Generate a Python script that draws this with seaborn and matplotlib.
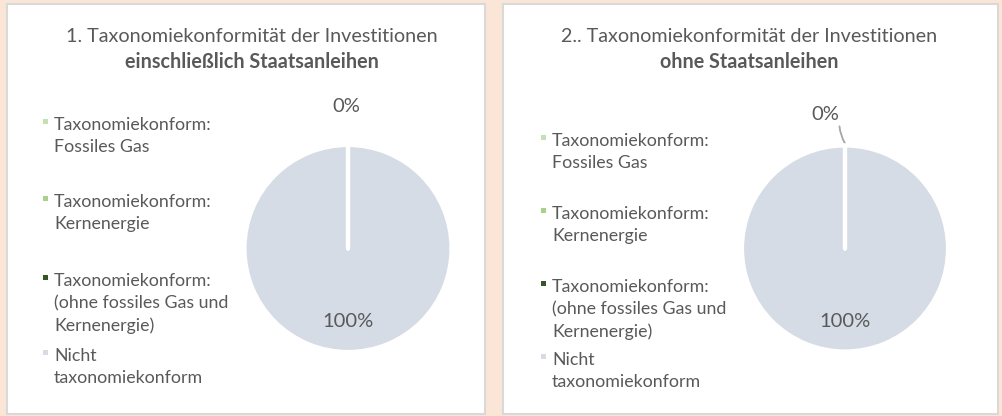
import numpy as np
import matplotlib.pyplot as plt
import matplotlib.patches as mpatches
import seaborn as sns

# chart data
categories = [
    "Taxonomiekonform:\nFossiles Gas",
    "Taxonomiekonform:\nKernenergie",
    "Taxonomiekonform:\n(ohne fossiles Gas und\nKernenergie)",
    "Nicht\ntaxonomiekonform",
]
values_incl = [0, 0, 0, 100]
values_excl = [0, 0, 0, 100]
title_line1 = ["1. Taxonomiekonformität der Investitionen",
               "2.. Taxonomiekonformität der Investitionen"]
title_line2 = ["einschließlich Staatsanleihen", "ohne Staatsanleihen"]

colors = ["#C5E0B4", "#A9D18E", "#375623", "#D6DCE5"]
text_color = "#595959"
bg = "#FBE5D6"

sns.set_theme(style="white")
plt.rcParams['font.family'] = ['Lato', 'DejaVu Sans']

W, H = 1002, 416
fig = plt.figure(figsize=(W / 100, H / 100), dpi=100, facecolor=bg)


def fx(px):
    return px / W


def fy(py):
    return 1 - py / H


def panel(x0, x1, y0=4, y1=414):
    r = mpatches.Rectangle((fx(x0), fy(y1)), fx(x1 - x0), (y1 - y0) / H,
                           transform=fig.transFigure, facecolor="white",
                           edgecolor="#D9D9D9", lw=1.5, zorder=-1)
    fig.patches.append(r)


def draw_panel(values, t1, t2, box, title_x, pie_c, radius, legend_x, legend_y,
               zero_label, leader):
    panel(*box)
    fig.text(fx(title_x), fy(37), t1, ha="center", va="center",
             fontsize=14.2, color=text_color)
    fig.text(fx(title_x), fy(62), t2, ha="center", va="center",
             fontsize=14.2, color=text_color, fontweight="bold")

    cx, cy = pie_c
    ax = fig.add_axes([fx(cx - radius), fy(cy + radius),
                       2 * radius / W, 2 * radius / H], zorder=2)
    ax.set_facecolor("none")
    wedges, _ = ax.pie(values, colors=colors, startangle=90, counterclock=False,
                       radius=1, wedgeprops=dict(edgecolor="white", linewidth=3,
                                                 capstyle="round"))
    for w, v in zip(wedges, values):
        if v == 0:
            w.set_zorder(5)
    ax.set_xlim(-1, 1)
    ax.set_ylim(-1, 1)
    ax.axis("off")

    total = sum(values)
    shown = set()
    for w, v in zip(wedges, values):
        lab = f"{v / total * 100:.0f}%"
        if v == 0:
            if lab in shown:
                continue
            shown.add(lab)
            ax.annotate(lab, xy=(0, 1.02), xytext=zero_label, ha="center",
                        va="center", fontsize=14.5, color=text_color,
                        annotation_clip=False,
                        arrowprops=dict(arrowstyle="-", color="#A6A6A6", lw=1.3,
                                        relpos=(1.0, 0.2),
                                        connectionstyle="arc3,rad=0.15",
                                        shrinkA=0, shrinkB=0) if leader else None)
        else:
            ang = np.deg2rad((w.theta1 + w.theta2) / 2)
            ax.text(0.71 * np.cos(ang), 0.71 * np.sin(ang), lab,
                    ha="center", va="center", fontsize=14.5, color=text_color)

    # legend
    for label, col, ly in zip(categories, colors, legend_y):
        fig.patches.append(mpatches.Rectangle(
            (fx(legend_x - 2.5), fy(ly + 0.5)), 5 / W, 5 / H,
            transform=fig.transFigure, facecolor=col, edgecolor="none"))
        fig.text(fx(legend_x + 9), fy(ly - 6), label, ha="left", va="top",
                 fontsize=12.8, color=text_color, linespacing=1.45)


draw_panel(values_incl, title_line1[0], title_line2[0], (7, 485), 252,
           (348, 248.5), 103.5, 45, [123, 200, 279, 354], (-0.02, 1.37), False)
draw_panel(values_excl, title_line1[1], title_line2[1], (503, 998), 749,
           (845, 248.5), 103, 543, [139, 212, 285, 358], (-0.19, 1.30), True)

fig.savefig("out.png", dpi=100, facecolor=bg)
